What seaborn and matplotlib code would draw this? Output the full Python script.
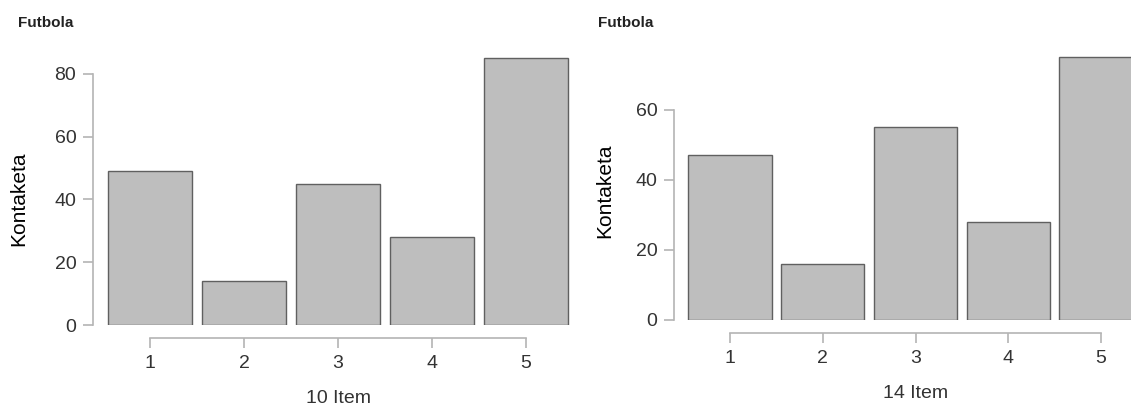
import matplotlib
matplotlib.use("Agg")
import matplotlib.pyplot as plt
import seaborn as sns

categories = ["1", "2", "3", "4", "5"]
values_10 = [49, 14, 45, 28, 85]
values_14 = [47, 16, 55, 28, 75]
title = "Futbola"
ylabel = "Kontaketa"
xlabel_10 = "10 Item"
xlabel_14 = "14 Item"

sns.set_theme(style="white")
plt.rcParams["font.family"] = ["Liberation Sans", "DejaVu Sans"]

W, H = 1131, 407
fig = plt.figure(figsize=(W / 100, H / 100), dpi=100)

spine_col = "#b4b4b4"
text_col = "#333333"


def panel(rect, vals, ymax_lim, ybound, yticks, xlabel, yoff_px, title_x,
          ylab_right_px, ylab_center_px, xlab_top_px):
    l, b, r, t = rect
    ax = fig.add_axes([l / W, 1 - b / H, (r - l) / W, (b - t) / H])
    sns.barplot(x=categories, y=vals, order=categories, color="#bebebe",
                saturation=1, edgecolor="#606060", linewidth=1.0, width=0.9, ax=ax)
    ax.set_xlim(-0.5, 4.5)
    ax.set_ylim(0, ymax_lim)
    ax.set_yticks(yticks)
    for s in ["top", "right"]:
        ax.spines[s].set_visible(False)
    ax.spines["left"].set_position(("outward", yoff_px * 0.72))
    ax.spines["bottom"].set_position(("outward", 13 * 0.72))
    ax.spines["left"].set_bounds(ybound[0], ybound[1])
    ax.spines["bottom"].set_bounds(0, 4)
    for s in ["left", "bottom"]:
        ax.spines[s].set_color(spine_col)
        ax.spines[s].set_linewidth(1.2)
    ax.tick_params(axis="both", which="both", length=7, width=1.2, color=spine_col,
                   labelsize=14, labelcolor=text_col, pad=5, left=True, bottom=True)
    ax.set_xlabel(xlabel, fontsize=14, color=text_col)
    ax.set_ylabel(ylabel, fontsize=15, color="black")
    hpx = b - t
    wpx = r - l
    ax.yaxis.set_label_coords((ylab_right_px - l) / wpx, (b - ylab_center_px) / hpx)
    ax.xaxis.set_label_coords(0.5, (b - xlab_top_px) / hpx)
    fig.text(title_x / W, 1 - 23 / H, title, fontsize=11, fontweight="bold",
             color="#222222", va="center", ha="left")
    return ax


panel((103, 325, 573, 52), values_10, 87, (0, 80), [0, 20, 40, 60, 80], xlabel_10,
      10, 18, 28, 199, 390)
panel((683.6, 320, 1147.4, 47), values_14, 78, (0, 60), [0, 20, 40, 60], xlabel_14,
      9.6, 598, 614, 191, 385)

fig.savefig("out.png", dpi=100)
